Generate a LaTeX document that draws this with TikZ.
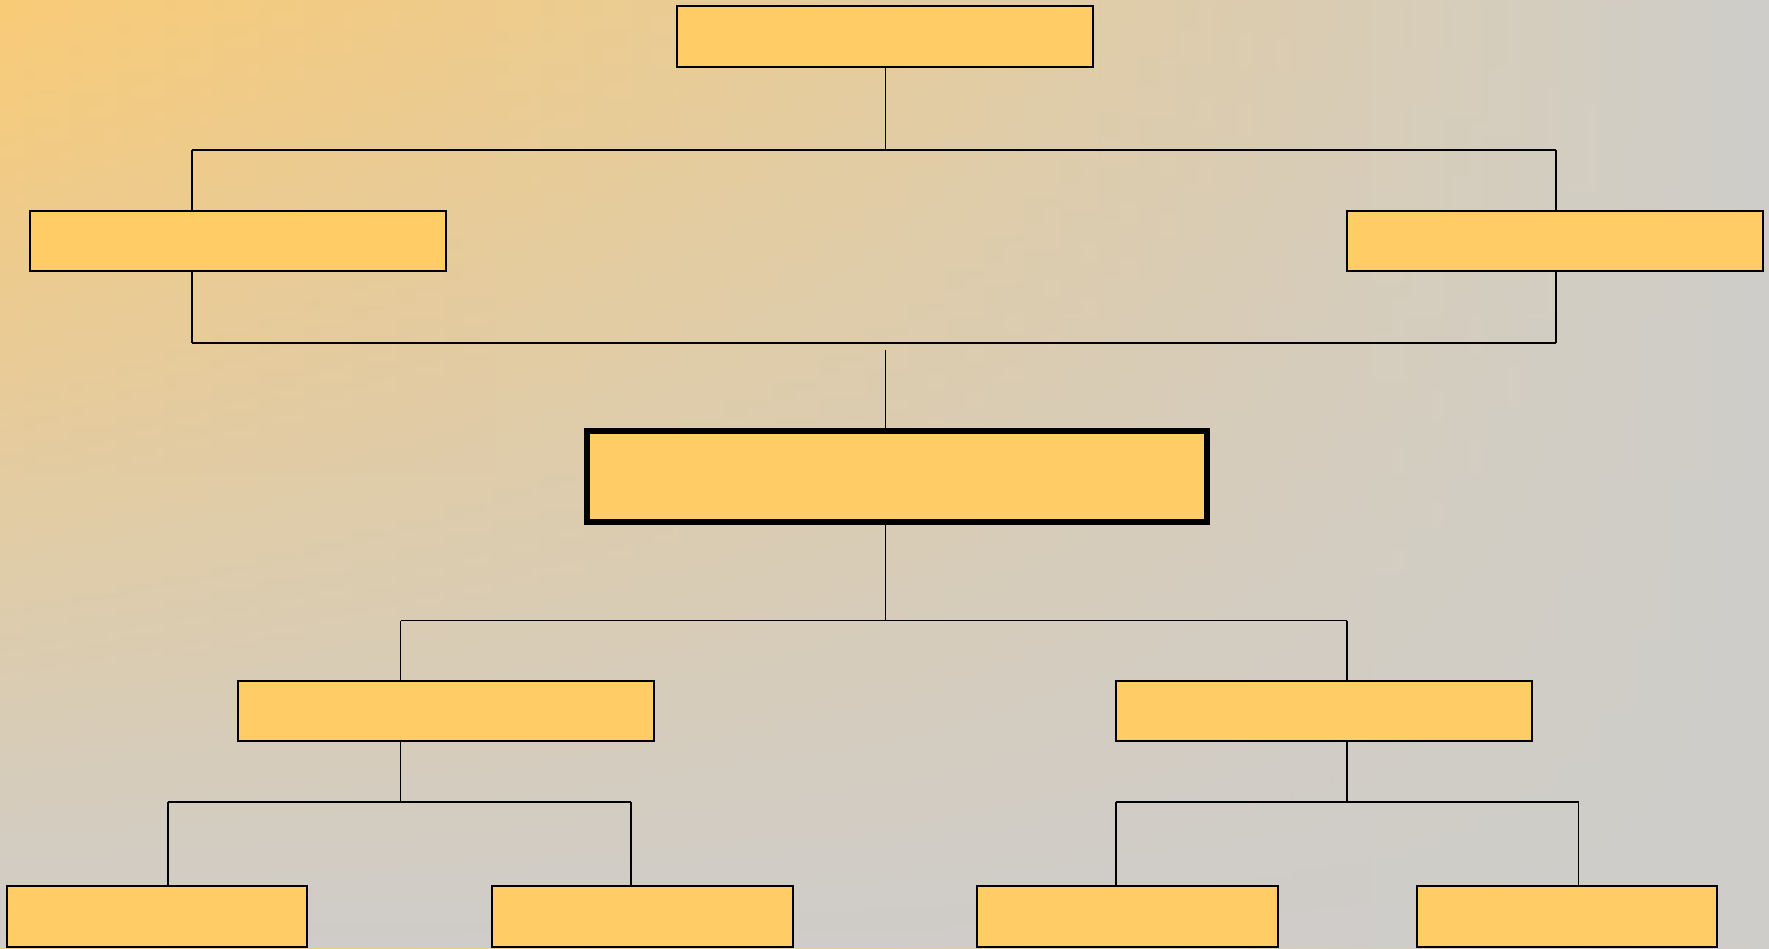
\documentclass[tikz,border=0pt]{standalone}
\usetikzlibrary{fadings}
\definecolor{bgorange}{HTML}{F9CB77}
\definecolor{bggray}{HTML}{CFCDCA}
\definecolor{boxfill}{HTML}{FFCC66}
\tikzfading[name=fadedown, top color=transparent!100, bottom color=transparent!0]
\begin{document}
\begin{tikzpicture}[x=1pt,y=-1pt,
  box/.style={draw=black, fill=boxfill, line width=1.5pt, rectangle, inner sep=0pt, outer sep=0pt, anchor=north west},
  boldbox/.style={box, line width=6pt},
  conn/.style={draw=black, line width=1.5pt}]
\useasboundingbox (0,0) rectangle (1769,948);
% background
\shade[left color=bgorange, right color=bggray, middle color=bgorange!55!bggray] (0,0) rectangle (1769,948);
\fill[bggray, path fading=fadedown] (0,0) rectangle (1769,948);
% boxes
\node[box, minimum width=416pt, minimum height=61pt] (top) at (677,6) {};
\node[box, minimum width=416pt, minimum height=60pt] (left) at (30,211) {};
\node[box, minimum width=416pt, minimum height=60pt] (right) at (1347,211) {};
\node[boldbox, minimum width=620pt, minimum height=91pt] (center) at (586.5,430.5) {};
\node[box, minimum width=416pt, minimum height=60pt] (midl) at (238,681) {};
\node[box, minimum width=416pt, minimum height=60pt] (midr) at (1116,681) {};
\node[box, minimum width=300pt, minimum height=61pt] (b1) at (7,886) {};
\node[box, minimum width=301pt, minimum height=61pt] (b2) at (492,886) {};
\node[box, minimum width=301pt, minimum height=61pt] (b3) at (977,886) {};
\node[box, minimum width=300pt, minimum height=61pt] (b4) at (1417,886) {};
% junction coordinates
\coordinate (j1) at (885.5,150);
\coordinate (j1l) at (192,150);
\coordinate (j1r) at (1556,150);
\coordinate (j2l) at (192,343);
\coordinate (j2r) at (1556,343);
\coordinate (j3) at (885.5,350);
\coordinate (j4) at (885.5,620.5);
\coordinate (j4l) at (400.5,620.5);
\coordinate (j4r) at (1347,620.5);
\coordinate (j5) at (400.5,802);
\coordinate (j5l) at (168,802);
\coordinate (j5r) at (631,802);
\coordinate (j6) at (1347,802);
\coordinate (j6l) at (1116,802);
\coordinate (j6r) at (1578.5,802);
% connectors
\draw[conn] (top.south -| j1) -- (j1);
\draw[conn] (j1l) -- (j1r);
\draw[conn] (j1l) -- (left.north -| j1l);
\draw[conn] (j1r) -- (right.north -| j1r);
\draw[conn] (left.south -| j2l) -- (j2l);
\draw[conn] (right.south -| j2r) -- (j2r);
\draw[conn] (j2l) -- (j2r);
\draw[conn] (j3) -- (center.north -| j3);
\draw[conn] (center.south -| j4) -- (j4);
\draw[conn] (j4l) -- (j4r);
\draw[conn] (j4l) -- (midl.north -| j4l);
\draw[conn] (j4r) -- (midr.north -| j4r);
\draw[conn] (midl.south -| j5) -- (j5);
\draw[conn] (j5l) -- (j5r);
\draw[conn] (j5l) -- (b1.north -| j5l);
\draw[conn] (j5r) -- (b2.north -| j5r);
\draw[conn] (midr.south -| j6) -- (j6);
\draw[conn] (j6l) -- (j6r);
\draw[conn] (j6l) -- (b3.north -| j6l);
\draw[conn] (j6r) -- (b4.north -| j6r);
\end{tikzpicture}
\end{document}
